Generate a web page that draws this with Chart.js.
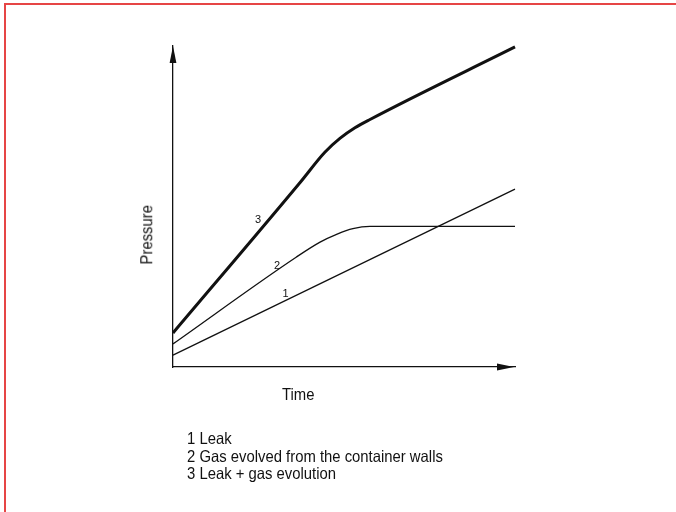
<!DOCTYPE html>
<html lang="en">
<head>
  <meta charset="UTF-8" />
  <title>Pressure vs time</title>
  <script src="https://cdn.jsdelivr.net/npm/chart.js"></script>
  <style>
    body {
      margin: 0;
      width: 676px;
      height: 512px;
      overflow: hidden;
      background: #fff;
      font-family: "Liberation Sans", Arial, sans-serif;
      color: #111;
    }
    .frame {
      position: absolute;
      left: 4px;
      top: 3px;
      width: 700px;
      height: 520px;
      border-top: 2px solid #e64545;
      border-left: 2px solid #e64545;
    }
    canvas { position: absolute; left: 0; top: 0; }
    .txt {
      position: absolute;
      font-size: 16.5px;
      line-height: 17.5px;
      white-space: nowrap;
      transform-origin: 0 0;
      transform: scaleX(0.9);
    }
    #pressure {
      width: 80px;
      text-align: center;
      transform-origin: 50% 50%;
      transform: rotate(-90deg) scaleX(0.9);
    }
  </style>
</head>
<body>
  <div class="frame"></div>
  <canvas id="chart" width="676" height="512"></canvas>
  <div class="txt" id="timeTitle" style="left:282px; top:386px;"></div>
  <div class="txt" id="pressure" style="left:107px; top:226px;"></div>
  <div class="txt" id="legend" style="left:187px; top:430px;"></div>

  <script>
    // values (x: time, y: pressure, both 0..100)
    const leakX = [0, 100];
    const leakY = [3.7, 55.4];

    const wallsX = [0, 36, 43, 48, 52.6, 57.6, 100];
    const wallsY = [7.2, 34.2, 38.9, 41.4, 43.1, 43.8, 43.8];

    const totalX = [0, 37.1, 44.4, 48.8, 53.2, 57.6, 100];
    const totalY = [10.6, 57.4, 66.9, 71.2, 74.5, 77.1, 99.7];

    const curveNames = ["1", "2", "3"];
    const curveLabelX = [32.9, 30.4, 24.9];
    const curveLabelY = [22.6, 31.4, 45.7];

    const xTitle = "Time";
    const yTitle = "Pressure";
    const legendLines = [
      "1 Leak",
      "2 Gas evolved from the container walls",
      "3 Leak + gas evolution"
    ];

    document.getElementById("timeTitle").textContent = xTitle;
    document.getElementById("pressure").textContent = yTitle;
    document.getElementById("legend").innerHTML = legendLines.join("<br>");

    const toPoints = (xs, ys) => xs.map((x, i) => ({ x: x, y: ys[i] }));

    // arrows on the axis ends + the small curve numbers
    const arrowsPlugin = {
      id: "arrows",
      afterDraw(chart) {
        const ctx = chart.ctx;
        const a = chart.chartArea;
        const xs = chart.scales.x, ys = chart.scales.y;
        ctx.save();
        ctx.fillStyle = "#111";
        ctx.beginPath();
        ctx.moveTo(a.left, a.top);
        ctx.lineTo(a.left - 3.4, a.top + 17);
        ctx.lineTo(a.left + 3.4, a.top + 17);
        ctx.closePath();
        ctx.fill();
        ctx.beginPath();
        ctx.moveTo(a.right - 1, a.bottom);
        ctx.lineTo(a.right - 18, a.bottom - 3.4);
        ctx.lineTo(a.right - 18, a.bottom + 3.4);
        ctx.closePath();
        ctx.fill();

        ctx.font = '11px "Liberation Sans", Arial, sans-serif';
        ctx.textAlign = "center";
        ctx.textBaseline = "middle";
        curveNames.forEach((n, i) => {
          ctx.fillText(n, xs.getPixelForValue(curveLabelX[i]), ys.getPixelForValue(curveLabelY[i]));
        });
        ctx.restore();
      }
    };

    const ctx = document.getElementById("chart").getContext("2d");
    new Chart(ctx, {
      type: "line",
      data: {
        datasets: [
          { label: "1 Leak", data: toPoints(leakX, leakY), borderColor: "#111", borderWidth: 1.3 },
          { label: "2 Gas evolved from the container walls", data: toPoints(wallsX, wallsY), borderColor: "#111", borderWidth: 1.3, cubicInterpolationMode: "monotone" },
          { label: "3 Leak + gas evolution", data: toPoints(totalX, totalY), borderColor: "#111", borderWidth: 3, cubicInterpolationMode: "monotone" }
        ]
      },
      options: {
        responsive: false,
        animation: false,
        events: [],
        layout: { padding: { left: 173, top: 46, right: 161, bottom: 145 } },
        elements: { point: { radius: 0 } },
        datasets: { line: { clip: false, fill: false } },
        plugins: { legend: { display: false }, tooltip: { enabled: false } },
        scales: {
          x: {
            type: "linear", min: 0, max: 100,
            grid: { display: false, drawTicks: false },
            ticks: { display: false },
            border: { display: true, color: "#111", width: 1.3 }
          },
          y: {
            min: 0, max: 100,
            grid: { display: false, drawTicks: false },
            ticks: { display: false },
            border: { display: true, color: "#111", width: 1.3 }
          }
        }
      },
      plugins: [arrowsPlugin]
    });
  </script>
</body>
</html>
